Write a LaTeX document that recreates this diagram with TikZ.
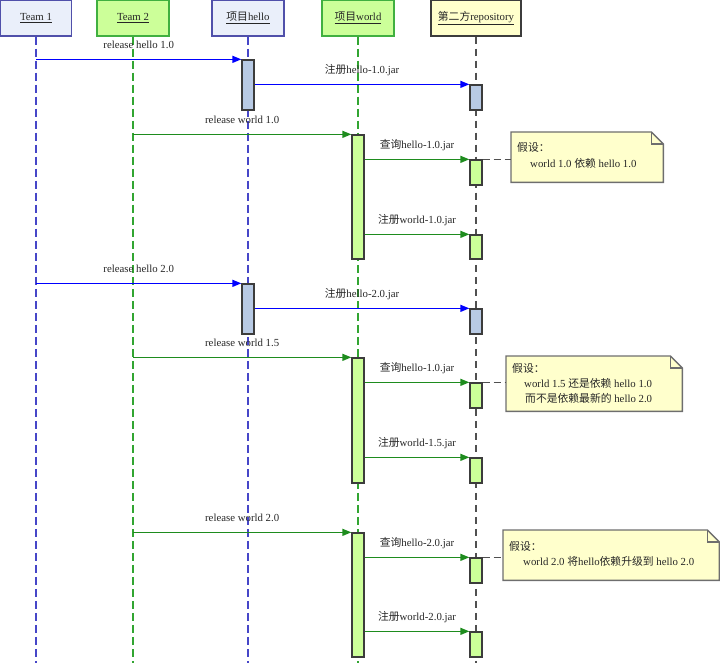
\documentclass[tikz,border=0pt]{standalone}
\usepackage{fontspec}
\setmainfont{Liberation Serif}
\newfontfamily\cjkfont{Noto Sans CJK SC}
\newcommand{\zhc}[1]{{\cjkfont #1}}
\usetikzlibrary{arrows.meta}
\definecolor{hdrBfill}{RGB}{234,239,250}
\definecolor{hdrBline}{RGB}{80,80,170}
\definecolor{hdrGfill}{RGB}{204,255,153}
\definecolor{hdrGline}{RGB}{64,176,64}
\definecolor{hdrYfill}{RGB}{255,255,204}
\definecolor{darkline}{RGB}{60,60,60}
\definecolor{actB}{RGB}{184,202,228}
\definecolor{actG}{RGB}{204,255,153}
\definecolor{msgB}{RGB}{0,0,255}
\definecolor{msgG}{RGB}{30,140,30}
\definecolor{lifeBc}{RGB}{70,70,200}
\definecolor{lifeGc}{RGB}{50,165,50}
\definecolor{lifeKc}{RGB}{80,80,80}
\definecolor{noteline}{RGB}{110,110,110}
\begin{document}
\begin{tikzpicture}[x=1pt,y=-1pt,
  font=\fontsize{10.8}{13}\selectfont,
  hdr/.style={draw, line width=1.5pt, minimum height=36pt, minimum width=72pt, inner sep=0pt, text=black!85},
  hblue/.style={hdr, fill=hdrBfill, draw=hdrBline},
  hgreen/.style={hdr, fill=hdrGfill, draw=hdrGline},
  hyellow/.style={hdr, fill=hdrYfill, draw=darkline},
  lifeB/.style={draw=lifeBc, line width=1.4pt, dash pattern=on 8pt off 4pt},
  lifeG/.style={draw=lifeGc, line width=1.4pt, dash pattern=on 8pt off 4pt},
  lifeK/.style={draw=lifeKc, line width=1.4pt, dash pattern=on 7pt off 5pt},
  act/.style={draw=darkline, line width=1.3pt, minimum width=12pt, minimum height=25pt, inner sep=0pt},
  bact/.style={act, fill=actB},
  gact/.style={act, fill=actG},
  msgb/.style={draw=msgB, line width=1.3pt, -{Triangle[length=9pt,width=7pt]}},
  msgg/.style={draw=msgG, line width=1.3pt, -{Triangle[length=9pt,width=7pt]}},
  lbl/.style={midway, anchor=base, yshift=10.5pt, inner sep=0pt, text=black!85},
  notebox/.style={anchor=north west, inner sep=0pt},
  noteshape/.style={draw=noteline, fill=hdrYfill, line width=1.4pt},
  notelink/.style={draw=lifeKc, line width=1.4pt, dash pattern=on 7pt off 4pt},
  ntxt/.style={anchor=base west, inner sep=0pt, text=black!85}
]
\useasboundingbox (0,0) rectangle (720,663);

% headers
\node[hblue, minimum width=71pt] (t1) at (36,18) {\underline{Team 1}};
\node[hgreen] (t2) at (133,18) {\underline{Team 2}};
\node[hblue] (ph) at (248,18) {\underline{\zhc{项目}hello}};
\node[hgreen] (pw) at (358,18) {\underline{\zhc{项目}world}};
\node[hyellow, minimum width=90pt] (rp) at (476,18) {\underline{\zhc{第二方}repository}};

% lifeline ends
\coordinate (t1e) at (36,663);
\coordinate (t2e) at (133,663);
\coordinate (phe) at (248,663);
\coordinate (pwe) at (358,663);
\coordinate (rpe) at (476,663);
\draw[lifeB] (t1.south) -- (t1e);
\draw[lifeG] (t2.south) -- (t2e);
\draw[lifeB] (ph.south) -- (phe);
\draw[lifeG] (pw.south) -- (pwe);
\draw[lifeK] (rp.south) -- (rpe);

% activations
\node[bact, minimum height=50pt] (h1) at (248,85) {};
\node[bact] (r1) at (476,97.5) {};
\node[gact, minimum height=124pt] (w1) at (358,197) {};
\node[gact] (r2) at (476,172.5) {};
\node[gact, minimum height=24pt] (r3) at (476,247) {};
\node[bact, minimum height=50pt] (h2) at (248,309) {};
\node[bact] (r4) at (476,321.5) {};
\node[gact, minimum height=125pt] (w2) at (358,420.5) {};
\node[gact] (r5) at (476,395.5) {};
\node[gact] (r6) at (476,470.5) {};
\node[gact, minimum height=124pt] (w3) at (358,595) {};
\node[gact] (r7) at (476,570.5) {};
\node[gact] (r8) at (476,644.5) {};

% messages
\draw[msgb] (t1.south |- h1.north) -- (h1.north west) node[lbl] {release hello 1.0};
\draw[msgb] (h1.east |- r1.north) -- (r1.north west) node[lbl] {\zhc{注册}hello-1.0.jar};
\draw[msgg] (t2.south |- w1.north) -- (w1.north west) node[lbl] {release world 1.0};
\draw[msgg] (w1.east |- r2.north) -- (r2.north west) node[lbl] {\zhc{查询}hello-1.0.jar};
\draw[msgg] (w1.east |- r3.north) -- (r3.north west) node[lbl] {\zhc{注册}world-1.0.jar};
\draw[msgb] (t1.south |- h2.north) -- (h2.north west) node[lbl] {release hello 2.0};
\draw[msgb] (h2.east |- r4.north) -- (r4.north west) node[lbl] {\zhc{注册}hello-2.0.jar};
\draw[msgg] (t2.south |- w2.north) -- (w2.north west) node[lbl] {release world 1.5};
\draw[msgg] (w2.east |- r5.north) -- (r5.north west) node[lbl] {\zhc{查询}hello-1.0.jar};
\draw[msgg] (w2.east |- r6.north) -- (r6.north west) node[lbl] {\zhc{注册}world-1.5.jar};
\draw[msgg] (t2.south |- w3.north) -- (w3.north west) node[lbl] {release world 2.0};
\draw[msgg] (w3.east |- r7.north) -- (r7.north west) node[lbl] {\zhc{查询}hello-2.0.jar};
\draw[msgg] (w3.east |- r8.north) -- (r8.north west) node[lbl] {\zhc{注册}world-2.0.jar};

% notes
\node[notebox, minimum width=152pt, minimum height=50pt] (n1) at (511,132) {};
\node[notebox, minimum width=176pt, minimum height=55pt] (n2) at (506,356) {};
\node[notebox, minimum width=216pt, minimum height=50pt] (n3) at (503,530) {};
\foreach \n in {n1,n2,n3}{
  \draw[noteshape] (\n.south west) -- (\n.north west) -- ([xshift=-12pt]\n.north east)
    -- ([yshift=-12pt]\n.north east) -- (\n.south east) -- cycle;
  \draw[draw=noteline, line width=1.2pt] ([xshift=-12pt]\n.north east) -- ([xshift=-12pt,yshift=-12pt]\n.north east) -- ([yshift=-12pt]\n.north east);
}
\draw[notelink] (r2.north east) -- (r2.north east -| n1.west);
\draw[notelink] (r5.north east) -- (r5.north east -| n2.west);
\draw[notelink] (r7.north east) -- (r7.north east -| n3.west);

\node[ntxt] (n1a) at (517,151.5) {\zhc{假设：}};
\node[ntxt] (n1b) at (530,167.5) {world 1.0 \zhc{依赖} hello 1.0};
\node[ntxt] (n2a) at (512,372.5) {\zhc{假设：}};
\node[ntxt] (n2b) at (524,387) {world 1.5 \zhc{还是依赖} hello 1.0};
\node[ntxt] (n2c) at (525,402) {\zhc{而不是依赖最新的} hello 2.0};
\node[ntxt] (n3a) at (509,550) {\zhc{假设：}};
\node[ntxt] (n3b) at (523,565) {world 2.0 \zhc{将}hello\zhc{依赖升级到} hello 2.0};
\end{tikzpicture}
\end{document}
